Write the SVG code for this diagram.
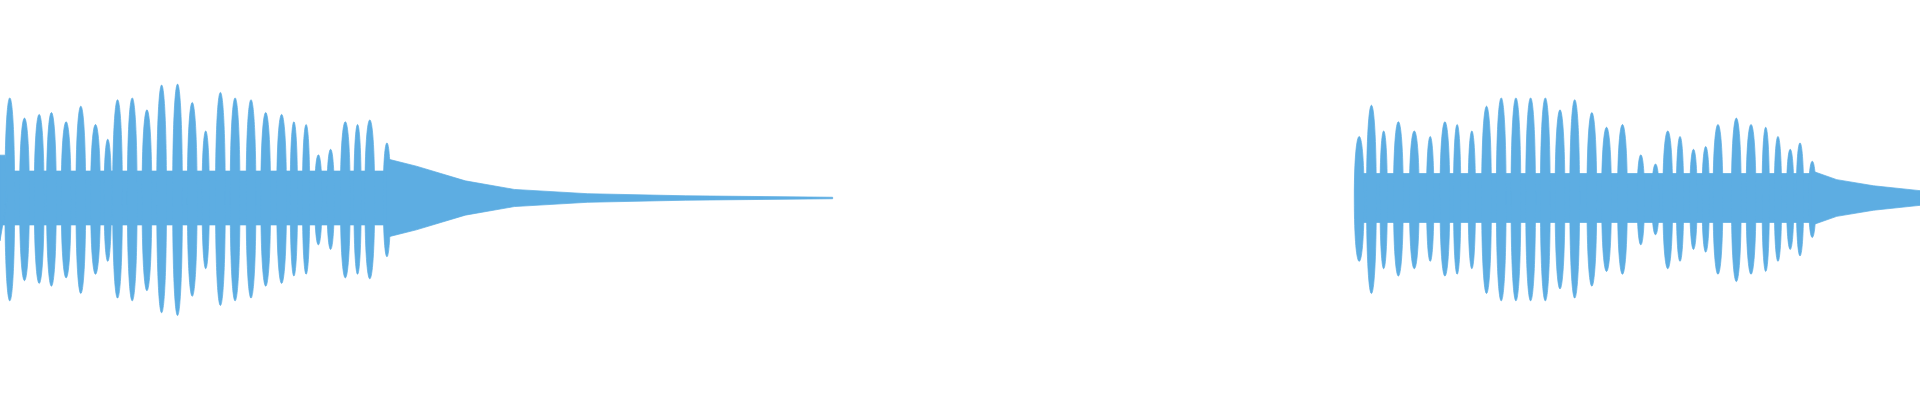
<svg xmlns="http://www.w3.org/2000/svg" width="1920" height="400" viewBox="0 0 1920 400">
<style>.w{fill:#5DADE2;stroke:#5DADE2;stroke-width:0.6}</style>
<rect width="1920" height="400" fill="#fff"/>
<g transform="translate(0,198) scale(1.2245)" class="w">
<path d="M0 -22 L318 -22 L318 22 L0 22Z"/>
<path d="M0 -35 L4 -35 L6 0 L0 35Z
M4 0 C4 -109 12 -109 12 0 C12 112 4 112 4 0Z
M16 0 C16 -87 24 -87 24 0 C24 90 16 90 16 0Z
M28 0 C28 -91 36 -91 36 0 C36 93 28 93 28 0Z
M38 0 C38 -93 46 -93 46 0 C46 96 38 96 38 0Z
M50 0 C50 -83 58 -83 58 0 C58 87 50 87 50 0Z
M62 0 C62 -100 70 -100 70 0 C70 104 62 104 62 0Z
M74 0 C74 -80 82 -80 82 0 C82 83 74 83 74 0Z
M85 0 C85 -64 91 -64 91 0 C91 69 85 69 85 0Z
M92 0 C92 -107 100 -107 100 0 C100 109 92 109 92 0Z
M104 0 C104 -109 112 -109 112 0 C112 112 104 112 104 0Z
M116 0 C116 -96 124 -96 124 0 C124 101 116 101 116 0Z
M128 0 C128 -123 136 -123 136 0 C136 125 128 125 128 0Z
M141 0 C141 -124 149 -124 149 0 C149 128 141 128 141 0Z
M153 0 C153 -104 161 -104 161 0 C161 107 153 107 153 0Z
M165 0 C165 -73 171 -73 171 0 C171 77 165 77 165 0Z
M176 0 C176 -115 184 -115 184 0 C184 117 176 117 176 0Z
M188 0 C188 -109 196 -109 196 0 C196 112 188 112 188 0Z
M201 0 C201 -107 209 -107 209 0 C209 109 201 109 201 0Z
M213 0 C213 -93 221 -93 221 0 C221 96 213 96 213 0Z
M226 0 C226 -91 234 -91 234 0 C234 93 226 93 226 0Z
M237 0 C237 -83 243 -83 243 0 C243 85 237 85 237 0Z
M247 0 C247 -80 253 -80 253 0 C253 83 247 83 247 0Z
M257 0 C257 -47 263 -47 263 0 C263 51 257 51 257 0Z
M267 0 C267 -53 273 -53 273 0 C273 56 267 56 267 0Z
M278 0 C278 -83 286 -83 286 0 C286 87 278 87 278 0Z
M289 0 C289 -80 295 -80 295 0 C295 83 289 83 289 0Z
M298 0 C298 -85 306 -85 306 0 C306 88 298 88 298 0Z
M313 0 C313 -60 319 -60 319 0 C319 64 313 64 313 0Z"/>
<path d="M316 -32 L340 -26 L360 -20 L380 -14 L420 -7 L480 -3.5 L560 -1.8 L680 -0.6 L680 0.6 L560 1.8 L480 3.5 L420 7 L380 14 L360 20 L340 26 L316 32Z"/>
<path d="M1108 -20 L1482 -20 L1482 20 L1108 20Z"/>
<path d="M1106 0 C1106 -67 1114 -67 1114 0 C1114 69 1106 69 1106 0Z
M1116 0 C1116 -101 1124 -101 1124 0 C1124 104 1116 104 1116 0Z
M1127 0 C1127 -73 1133 -73 1133 0 C1133 77 1127 77 1127 0Z
M1138 0 C1138 -83 1146 -83 1146 0 C1146 85 1138 85 1138 0Z
M1151 0 C1151 -73 1159 -73 1159 0 C1159 77 1151 77 1151 0Z
M1165 0 C1165 -67 1171 -67 1171 0 C1171 69 1165 69 1165 0Z
M1176 0 C1176 -83 1184 -83 1184 0 C1184 85 1176 85 1176 0Z
M1187 0 C1187 -80 1193 -80 1193 0 C1193 83 1187 83 1187 0Z
M1199 0 C1199 -73 1205 -73 1205 0 C1205 77 1199 77 1199 0Z
M1210 0 C1210 -100 1218 -100 1218 0 C1218 104 1210 104 1210 0Z
M1222 0 C1222 -109 1230 -109 1230 0 C1230 112 1222 112 1222 0Z
M1234 0 C1234 -109 1242 -109 1242 0 C1242 112 1234 112 1234 0Z
M1246 0 C1246 -109 1254 -109 1254 0 C1254 112 1246 112 1246 0Z
M1258 0 C1258 -109 1266 -109 1266 0 C1266 112 1258 112 1258 0Z
M1270 0 C1270 -96 1278 -96 1278 0 C1278 99 1270 99 1270 0Z
M1282 0 C1282 -107 1290 -107 1290 0 C1290 109 1282 109 1282 0Z
M1296 0 C1296 -93 1304 -93 1304 0 C1304 96 1296 96 1296 0Z
M1308 0 C1308 -77 1316 -77 1316 0 C1316 80 1308 80 1308 0Z
M1321 0 C1321 -80 1329 -80 1329 0 C1329 83 1321 83 1321 0Z
M1337 0 C1337 -47 1343 -47 1343 0 C1343 51 1337 51 1337 0Z
M1349 0 C1349 -37 1355 -37 1355 0 C1355 40 1349 40 1349 0Z
M1358 0 C1358 -73 1366 -73 1366 0 C1366 77 1358 77 1358 0Z
M1369 0 C1369 -67 1375 -67 1375 0 C1375 69 1369 69 1369 0Z
M1380 0 C1380 -53 1386 -53 1386 0 C1386 56 1380 56 1380 0Z
M1390 0 C1390 -56 1396 -56 1396 0 C1396 59 1390 59 1390 0Z
M1399 0 C1399 -80 1407 -80 1407 0 C1407 83 1399 83 1399 0Z
M1414 0 C1414 -87 1422 -87 1422 0 C1422 91 1414 91 1414 0Z
M1426 0 C1426 -80 1434 -80 1434 0 C1434 83 1426 83 1426 0Z
M1439 0 C1439 -77 1445 -77 1445 0 C1445 80 1439 80 1439 0Z
M1449 0 C1449 -67 1455 -67 1455 0 C1455 69 1449 69 1449 0Z
M1459 0 C1459 -53 1465 -53 1465 0 C1465 56 1459 56 1459 0Z
M1467 0 C1467 -60 1473 -60 1473 0 C1473 63 1467 63 1467 0Z
M1477 0 C1477 -40 1483 -40 1483 0 C1483 43 1477 43 1477 0Z"/>
<path d="M1480 -22 L1500 -15 L1530 -10 L1568 -6 L1568 6 L1530 10 L1500 15 L1480 22Z"/>
</g>
</svg>
